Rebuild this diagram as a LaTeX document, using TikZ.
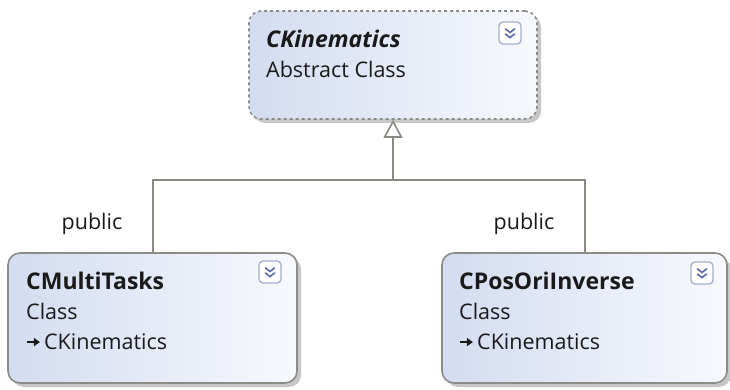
\documentclass[tikz,border=0pt]{standalone}
\usepackage{fontspec}
\setmainfont{Open Sans}
\usetikzlibrary{arrows.meta,shadows}
\definecolor{boxleft}{HTML}{D3DCF0}
\definecolor{boxright}{HTML}{F7F9FD}
\definecolor{edgegray}{HTML}{8C8C86}
\definecolor{linegray}{HTML}{8A8A82}
\definecolor{txt}{HTML}{1A1A1A}
\definecolor{iconblue}{HTML}{5A6AA8}
\tikzset{
  classbox/.style={draw=edgegray, line width=1.6pt, rounded corners=12pt,
    left color=boxleft, right color=boxright, minimum height=130pt,
    drop shadow={shadow xshift=4pt, shadow yshift=-4pt, fill=black!22, opacity=1}},
  abstractbox/.style={classbox, dashed, minimum height=108pt},
  conn/.style={draw=linegray, line width=2pt},
  lbl/.style={text=txt, inner sep=0pt, anchor=base west},
  title/.style={lbl, font=\fontsize{23}{27}\selectfont\bfseries},
  sub/.style={lbl, font=\fontsize{21.5}{25}\selectfont},
  iconbox/.style={draw=iconblue!55, fill=white, line width=1.3pt, rounded corners=4pt, minimum size=22pt, inner sep=0pt},
}
\newcommand{\chev}[1]{%
  \node[iconbox] (#1) {};
  \draw[iconblue, line width=1.6pt] ([xshift=-4.8pt,yshift=4.3pt]#1.center) -- ([yshift=0.5pt]#1.center) -- ([xshift=4.8pt,yshift=4.3pt]#1.center);
  \draw[iconblue, line width=1.6pt] ([xshift=-4.8pt,yshift=-0.8pt]#1.center) -- ([yshift=-4.6pt]#1.center) -- ([xshift=4.8pt,yshift=-0.8pt]#1.center);
}
\newcommand{\inhmark}{\tikz[baseline=-0.6ex]\draw[txt, line width=1.4pt, -{Triangle[length=6pt,width=8pt]}] (0,0) -- (13pt,0);}
\begin{document}
\begin{tikzpicture}[x=1pt,y=-1pt]
\useasboundingbox (0,0) rectangle (730,390);
% boxes
\node[abstractbox, minimum width=288pt] (kin) at (393,65) {};
\node[classbox, minimum width=289pt] (multi) at (152.5,318) {};
\node[classbox, minimum width=285pt] (pos) at (584.5,318) {};
% texts top
\node[title, font=\fontsize{23}{27}\selectfont\bfseries\itshape] (kinname) at (266,48) {CKinematics};
\node[sub] (kintype) at (266,78) {Abstract Class};
\begin{scope}[shift={(510,33)}]\chev{kinicon}\end{scope}
% texts left
\node[title] (multiname) at (26,289) {CMultiTasks};
\node[sub] (multitype) at (26,319) {Class};
\node[sub] (multibase) at (26,349) {\inhmark\,CKinematics};
\begin{scope}[shift={(270,272)}]\chev{multiicon}\end{scope}
% texts right
\node[title] (posname) at (459,289) {CPosOriInverse};
\node[sub] (postype) at (459,319) {Class};
\node[sub] (posbase) at (459,349) {\inhmark\,CKinematics};
\begin{scope}[shift={(702,273)}]\chev{posicon}\end{scope}
% connectors
\coordinate (junc) at (393,180);
\draw[conn, -{Triangle[open, length=18pt, width=19pt, line width=1.6pt]}] (junc) -- (kin.south);
\draw[conn] (multi.north -| 153,0) |- (junc) -| (pos.north);
% labels
\node[sub, anchor=base] (lpub) at (92,229) {public};
\node[sub, anchor=base] (rpub) at (524,229) {public};
\end{tikzpicture}
\end{document}
